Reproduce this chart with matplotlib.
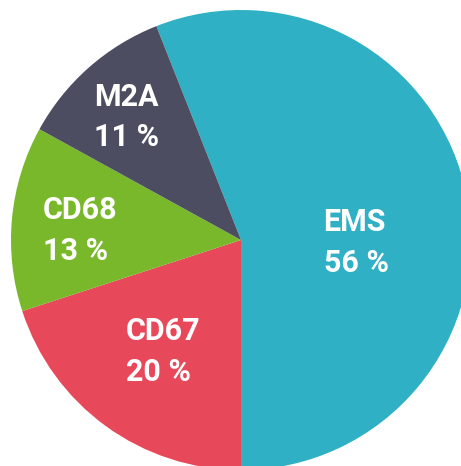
import numpy as np
import matplotlib
matplotlib.use("Agg")
import matplotlib.pyplot as plt

# data
labels = ["EMS", "CD67", "CD68", "M2A"]
shares = [56, 20, 13, 11]
colors = ["#2fb0c4", "#e8495a", "#78b82a", "#4c4d61"]
label_radius = [0.5, 0.59, 0.7, 0.73]  # how far out each label sits
label_shift = [-12, 1, 2, 1.5]  # small angle tweak (degrees)

fig = plt.figure(figsize=(4.61, 4.66), dpi=100)
ax = fig.add_axes([0, 0, 1, 1])

start = 90 + 360 * shares[0] / 100 - 180  # EMS ends straight down
wedges, _ = ax.pie(shares, colors=colors, startangle=start, counterclock=False,
                   radius=1, wedgeprops=dict(linewidth=0))

for w, lab, val, r, sh in zip(wedges, labels, shares, label_radius, label_shift):
    mid = np.deg2rad((w.theta1 + w.theta2) / 2 + sh)
    ax.text(r * np.cos(mid), r * np.sin(mid), f"{lab}\n{val} %",
            color="white", fontsize=22, fontweight="bold", family="Roboto",
            ha="center", va="center", multialignment="left", linespacing=1.45)

ax.set_xlim(-241 / 230, 220 / 230)
ax.set_ylim(-226 / 230, 240 / 230)
ax.set_aspect("auto")
ax.axis("off")

fig.savefig("out.png", dpi=100)
